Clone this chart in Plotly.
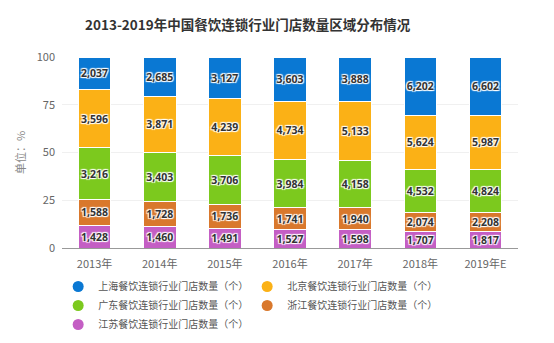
import plotly.graph_objects as go

years = ["2013年", "2014年", "2015年", "2016年", "2017年", "2018年", "2019年E"]
shanghai = [2037, 2685, 3127, 3603, 3888, 6202, 6602]
beijing = [3596, 3871, 4239, 4734, 5133, 5624, 5987]
guangdong = [3216, 3403, 3706, 3984, 4158, 4532, 4824]
zhejiang = [1588, 1728, 1736, 1741, 1940, 2074, 2208]
jiangsu = [1428, 1460, 1491, 1527, 1598, 1707, 1817]

series = [
    ("江苏餐饮连锁行业门店数量（个）", jiangsu, "#c45ec4"),
    ("浙江餐饮连锁行业门店数量（个）", zhejiang, "#d9782c"),
    ("广东餐饮连锁行业门店数量（个）", guangdong, "#7cc91e"),
    ("北京餐饮连锁行业门店数量（个）", beijing, "#fbb116"),
    ("上海餐饮连锁行业门店数量（个）", shanghai, "#0a78d3"),
]

FONT = "Noto Sans CJK SC"
SHADOW = "1px 1px 1px white, -1px -1px 1px white, 1px -1px 1px white, -1px 1px 1px white"
fig = go.Figure()
for name, vals, color in series:
    fig.add_trace(go.Bar(
        x=years, y=vals, name=name, legendgroup=name, showlegend=False,
        marker=dict(color=color, line=dict(color="white", width=1)),
        text=[f"{v:,}" for v in vals], textposition="inside",
        insidetextanchor="middle", textangle=0,
        textfont=dict(family="Noto Sans", size=10.5, color="#333333",
                      weight="bold", shadow=SHADOW),
    ))
for name, vals, color in series:
    fig.add_trace(go.Scatter(
        x=[None], y=[None], mode="markers", name=name, legendgroup=name,
        marker=dict(color=color, size=11, symbol="circle"), showlegend=True,
    ))

fig.update_layout(
    width=554, height=343,
    barmode="stack", barnorm="percent", bargap=0.5,
    plot_bgcolor="white", paper_bgcolor="white",
    margin=dict(l=62, r=36, t=57, b=95, autoexpand=False),
    uniformtext=dict(minsize=10.5, mode="show"),
    title=dict(text="<b>2013-2019年中国餐饮连锁行业门店数量区域分布情况</b>",
               x=0.447, xanchor="center", y=0.925, yanchor="middle",
               font=dict(family=FONT, size=13.5, color="#333333")),
    font=dict(family=FONT, size=11, color="#666666"),
    xaxis=dict(showline=True, linecolor="#999999", linewidth=1, ticks="",
               ticklabelstandoff=6,
               tickfont=dict(size=11, color="#666666")),
    yaxis=dict(range=[0, 100], tickvals=[0, 25, 50, 75, 100], showgrid=True,
               gridcolor="#f0f0f0", zeroline=False, ticklabelstandoff=6,
               title=dict(text="单位：%", font=dict(size=11, color="#888888"), standoff=8),
               tickfont=dict(size=11, color="#666666")),
    legend=dict(orientation="h", traceorder="reversed", x=0.105, y=0.207,
                xref="container", yref="container", itemwidth=30,
                xanchor="left", yanchor="top", entrywidth=144,
                font=dict(family=FONT, size=10, color="#555555"),
                itemclick=False),
    showlegend=True,
)

fig.write_html("out.html")
